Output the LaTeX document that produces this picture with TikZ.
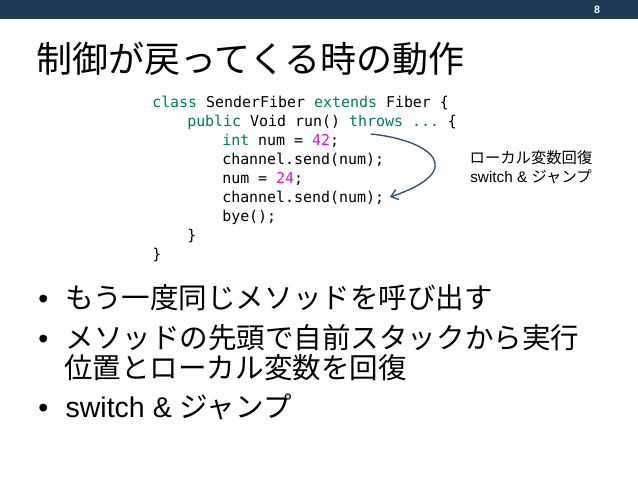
\documentclass[tikz,border=0pt]{standalone}
\usetikzlibrary{arrows.meta}
\usepackage{fontspec}
\setmainfont{Liberation Sans}
\newfontfamily\jp{Noto Sans CJK JP}
\setmonofont{DejaVu Sans Mono}
\definecolor{bar}{HTML}{1F3A57}
\definecolor{kw}{HTML}{007A5E}
\definecolor{nm}{HTML}{E010E0}
\definecolor{arr}{HTML}{2E4F70}
\newcommand{\K}[1]{\textcolor{kw}{#1}}
\newcommand{\N}[1]{\textcolor{nm}{#1}}
\begin{document}
\begin{tikzpicture}[x=0.75pt,y=-0.75pt,
  code/.style={anchor=base west,inner sep=0pt,font=\ttfamily\fontsize{11.2}{13}\selectfont},
  bul/.style={anchor=base west,inner sep=0pt,font=\fontsize{21.4}{25}\selectfont},
  lab/.style={anchor=base,inner sep=0pt,font=\fontsize{11.5}{13}\selectfont}]
\useasboundingbox (0,0) rectangle (638,478);
\fill[bar] (0,0) rectangle (638,19);
\node[text=white,font=\bfseries\fontsize{8}{9}\selectfont] (pg) at (597,10) {8};
\node[anchor=base west,inner sep=0pt,font=\jp\fontsize{27}{30}\selectfont] (title) at (36,73) {制御が戻ってくる時の動作};
\node[code] (l1) at (152,107) {\K{class} SenderFiber \K{extends} Fiber \{};
\node[code] (l2) at (187,126) {\K{public} Void run() \K{throws ...} \{};
\node[code] (l3) at (222,145) {\K{int} num = \N{42};};
\node[code] (l4) at (222,164) {channel.send(num);};
\node[code] (l5) at (222,183) {num = \N{24};};
\node[code] (l6) at (222,202) {channel.send(num);};
\node[code] (l7) at (222,221) {bye();};
\node[code] (l8) at (187,240) {\}};
\node[code] (l9) at (152,259) {\}};
\coordinate (s) at (371,134);
\coordinate (e) at (390,197);
\draw[arr,line width=1pt,-{Straight Barb[length=5pt,width=8pt]}] (s) .. controls (430,140) and (470,170) .. (e);
\node[lab] (la1) at (531,163) {\jp ローカル変数回復};
\node[lab] (la2) at (531,182) {switch \& \jp ジャンプ};
\node[bul] (b1) at (38,308) {•\hspace{13pt}\jp もう一度同じメソッドを呼び出す};
\node[bul] (b2) at (38,348) {•\hspace{13pt}\jp メソッドの先頭で自前スタックから実行};
\node[bul] (b3) at (64,378) {\jp 位置とローカル変数を回復};
\node[bul] (b4) at (38,417) {•\hspace{13pt}switch \& \jp ジャンプ};
\end{tikzpicture}
\end{document}
